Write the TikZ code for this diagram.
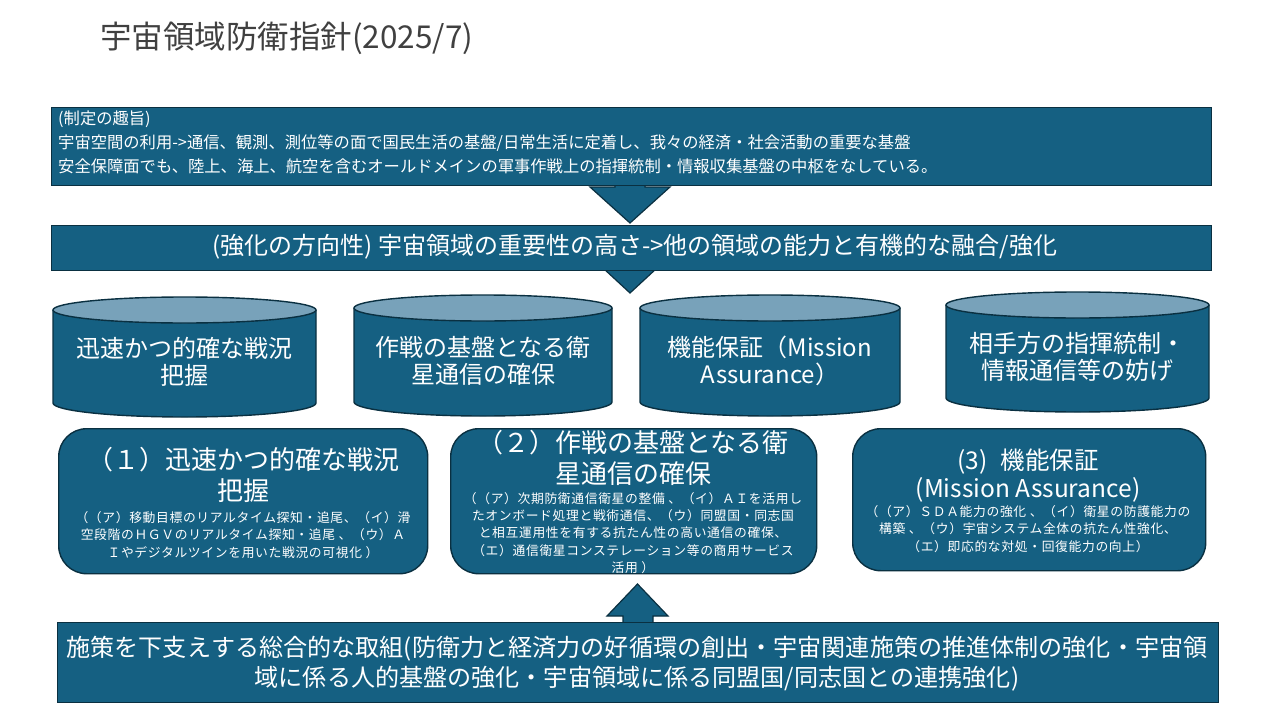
\documentclass[tikz,border=0pt]{standalone}
\usepackage{fontspec}
\setmainfont{Noto Sans CJK JP}
\usetikzlibrary{positioning}
\definecolor{C0}{HTML}{156082}
\definecolor{C1}{HTML}{0A3041}
\definecolor{C2}{HTML}{78A2BA}
\definecolor{C3}{HTML}{404040}
\tikzset{
  panel/.style={draw=C1, fill=C0, line width=1.4pt, inner sep=0pt, anchor=north west},
  fatarrow/.style={draw=C1, fill=C0, line width=1.2pt, line join=miter},
  txt/.style={text=white, align=center, inner sep=0pt},
  small/.style={txt, font=\fs{12.8}{17.3}\addfontfeature{LetterSpace=5}},
}
\newcommand\fs[2]{\fontsize{#1}{#2}\selectfont}
\newcommand\drum[6]{%
  \pgfmathsetmacro\rx{(#3-#2)/2}
  \pgfmathsetmacro\cx{(#3+#2)/2}
  \draw[draw=C1, fill=C0, line width=1.4pt] (#2,#4+13) -- (#2,#5-14)
    arc[start angle=180, end angle=0, x radius=\rx, y radius=14] -- (#3,#4+13);
  \draw[draw=C1, fill=C2, line width=1.4pt] (\cx,#4+13) ellipse[x radius=\rx, y radius=13];
  \node[txt, font=\fs{24}{27}] (#1) at (\cx,{(#4+#5)/2+5}) {#6};
}
\begin{document}
\begin{tikzpicture}[x=1pt, y=-1pt]
\useasboundingbox[fill=white] (0,0) rectangle (1280,720);
\node[anchor=west, inner sep=0pt, text=C3, font=\fs{31.5}{34}] (title) at (100,38) {宇宙領域防衛指針(2025/7)};

\draw[fatarrow] (615,180) -- (615,187) -- (590,187) -- (630,223) -- (670,187) -- (645,187) -- (645,180);
\node[panel, minimum width=1160pt, minimum height=78pt] (purpose) at (51,107) {};
\node[anchor=north west, inner sep=0pt, text=white, align=left, font=\fs{16.3}{24}] (purposetxt) at (58,111)
  {(制定の趣旨)\\宇宙空間の利用->通信、観測、測位等の面で国民生活の基盤/日常生活に定着し、我々の経済・社会活動の重要な基盤\\安全保障面でも、陸上、海上、航空を含むオールドメインの軍事作戦上の指揮統制・情報収集基盤の中枢をなしている。};

\draw[fatarrow] (615,240) -- (615,256) -- (590,256) -- (630,293) -- (670,256) -- (645,256) -- (645,240);
\node[panel, minimum width=1160pt, minimum height=45pt] (direction) at (51,225) {};
\node[txt, font=\fs{24}{28}] (directiontxt) at (635,247) {(強化の方向性) 宇宙領域の重要性の高さ->他の領域の能力と有機的な融合/強化};

\drum{pillar1}{53}{316}{297}{417}{迅速かつ的確な戦況\\把握}
\drum{pillar2}{354}{612}{295}{416}{作戦の基盤となる衛\\星通信の確保}
\drum{pillar3}{640}{900}{295}{416}{機能保証（Mission\\Assurance）}
\drum{pillar4}{946}{1209}{292}{412}{相手方の指揮統制・\\情報通信等の妨げ}

\node[panel, rounded corners=28pt, minimum width=369pt, minimum height=145pt] (item1) at (58,428) {};
\node[txt, font=\fs{26}{31}] (item1title) at (243,475) {（１）迅速かつ的確な戦況\\把握};
\node[small] (item1txt) at (243,535) {（（ア）移動目標のリアルタイム探知・追尾、（イ）滑\\空段階のＨＧＶのリアルタイム探知・追尾 、（ウ）Ａ\\Ｉやデジタルツインを用いた戦況の可視化 ）};

\node[panel, rounded corners=28pt, minimum width=366pt, minimum height=145pt] (item2) at (450,428) {};
\node[txt, font=\fs{26}{31}] (item2title) at (633,458) {（２）作戦の基盤となる衛\\星通信の確保};
\node[small] (item2txt) at (633,533) {（（ア）次期防衛通信衛星の整備 、（イ）ＡＩを活用し\\たオンボード処理と戦術通信、（ウ）同盟国・同志国\\と相互運用性を有する抗たん性の高い通信の確保、\\（エ）通信衛星コンステレーション等の商用サービス\\活用 ）};

\node[panel, rounded corners=28pt, minimum width=353pt, minimum height=142pt] (item3) at (852,428) {};
\node[txt, font=\fs{24.5}{28}] (item3title) at (1028,476) {(3)\hspace{13pt}機能保証\\(Mission Assurance)};
\node[small] (item3txt) at (1028,529) {（（ア）ＳＤＡ能力の強化 、（イ）衛星の防護能力の\\構築 、（ウ）宇宙システム全体の抗たん性強化、\\（エ）即応的な対処・回復能力の向上）};

\draw[fatarrow] (623,630) -- (623,616) -- (607,616) -- (637.5,584) -- (668,616) -- (653,616) -- (653,630);
\node[panel, minimum width=1161pt, minimum height=80pt] (support) at (57,622) {};
\node[txt, font=\fs{24.1}{30}] (supporttxt) at (637,664) {施策を下支えする総合的な取組(防衛力と経済力の好循環の創出・宇宙関連施策の推進体制の強化・宇宙領\\域に係る人的基盤の強化・宇宙領域に係る同盟国/同志国との連携強化)};
\end{tikzpicture}
\end{document}
